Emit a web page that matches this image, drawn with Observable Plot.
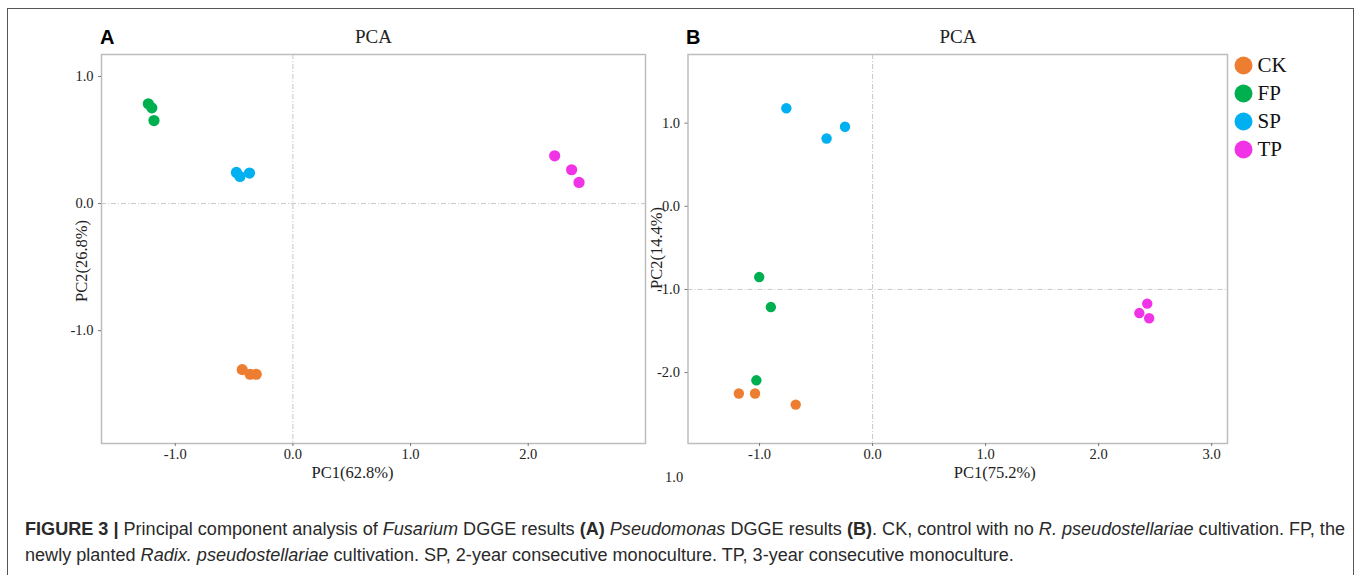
<!DOCTYPE html>
<html>
<head>
<meta charset="utf-8">
<script src="https://cdn.jsdelivr.net/npm/d3@7"></script>
<script src="https://cdn.jsdelivr.net/npm/@observablehq/plot@0.6"></script>
<style>
  html, body { margin: 0; padding: 0; background: #fff; }
  #root { position: relative; width: 1360px; height: 575px; overflow: hidden; background: #fff; }
  .abs { position: absolute; white-space: nowrap; }
  .serif { font-family: "Liberation Serif", "Times New Roman", serif; color: #222; }
  .sans { font-family: "Liberation Sans", Arial, Helvetica, sans-serif; color: #222; }
  #border { position: absolute; left: 7px; top: 8px; width: 1347px; height: 600px;
            border: 1.5px solid #555; box-sizing: border-box; }
</style>
</head>
<body>
<div id="root">
  <div id="border"></div>
</div>
<script>
// ---------- data ----------
const groups = ["CK", "FP", "SP", "TP"];
const groupColors = ["#ED7D31", "#00B050", "#00B0F0", "#F033E6"];

// Panel A (Fusarium)
const aGroup = ["FP", "FP", "FP", "SP", "SP", "SP", "TP", "TP", "TP", "CK", "CK", "CK"];
const aPC1 = [-1.229, -1.199, -1.181, -0.480, -0.450, -0.369, 2.225, 2.369, 2.432, -0.431, -0.364, -0.312];
const aPC2 = [0.785, 0.753, 0.653, 0.245, 0.213, 0.240, 0.376, 0.266, 0.166, -1.307, -1.343, -1.343];
const aXTicks = [-1, 0, 1, 2];
const aYTicks = [-1, 0, 1];
const aRefX = [0];
const aRefY = [0];

// Panel B (Pseudomonas)
const bGroup = ["SP", "SP", "SP", "FP", "FP", "FP", "CK", "CK", "CK", "TP", "TP", "TP"];
const bPC1 = [-0.763, -0.407, -0.244, -1.003, -0.900, -1.028, -1.183, -1.040, -0.680, 2.430, 2.360, 2.447];
const bPC2 = [1.180, 0.816, 0.957, -0.851, -1.212, -2.093, -2.252, -2.252, -2.385, -1.171, -1.284, -1.347];
const bXTicks = [-1, 0, 1, 2, 3];
const bYTicks = [-2, -1, 0, 1];
const bRefX = [0];
const bRefY = [-1];

// ---------- drawing ----------
const fmt = d => d.toFixed(1);
const root = document.getElementById("root");

function panel(o) {
  const idx = o.pc1.map((_, i) => i);
  const svg = Plot.plot({
    width: o.width, height: 500,
    marginLeft: o.mL, marginRight: o.mR, marginTop: 54, marginBottom: 57,
    style: { fontFamily: "'Liberation Serif', 'Times New Roman', serif", fontSize: "14.5px", color: "#222", background: "transparent" },
    x: { domain: o.xDomain },
    y: { domain: o.yDomain },
    color: { domain: groups, range: groupColors },
    marks: [
      Plot.ruleX(o.refX, { stroke: "#c8c8c8", strokeWidth: 1, strokeDasharray: "5,2,1,2" }),
      Plot.ruleY(o.refY, { stroke: "#c8c8c8", strokeWidth: 1, strokeDasharray: "5,2,1,2" }),
      Plot.frame({ stroke: "#bdbdbd", strokeWidth: 1.5 }),
      Plot.axisX({ ticks: o.xTicks, tickFormat: fmt, tickSize: 3, tickPadding: 2, label: null, stroke: "#777" }),
      Plot.axisY({ ticks: o.yTicks, tickFormat: fmt, tickSize: 3, tickPadding: 5, label: null, stroke: "#777" }),
      Plot.dot(idx, { x: i => o.pc1[i], y: i => o.pc2[i], fill: i => o.grp[i], r: o.r, stroke: null }),
      Plot.text([o.xLabel], { text: d => d, frameAnchor: "bottom", textAnchor: "middle", dx: o.xLabelDx, dy: 34, fontSize: 16.5 }),
      Plot.text([o.yLabel], { text: d => d, frameAnchor: "left", textAnchor: "middle", rotate: -90, dx: o.yLabelDx, dy: o.yLabelDy, fontSize: 16.5 })
    ]
  });
  svg.style.position = "absolute";
  svg.style.left = o.left + "px";
  svg.style.top = "0px";
  root.appendChild(svg);
}

panel({
  left: 0, width: 660, mL: 101, mR: 15,
  pc1: aPC1, pc2: aPC2, grp: aGroup,
  xDomain: [-1.627, 2.997], yDomain: [-1.888, 1.173],
  xTicks: aXTicks, yTicks: aYTicks, refX: aRefX, refY: aRefY,
  xLabel: "PC1(62.8%)", yLabel: "PC2(26.8%)",
  xLabelDx: -21, yLabelDx: -20, yLabelDy: 12, r: 5.6
});

panel({
  left: 600, width: 660, mL: 87.5, mR: 33,
  pc1: bPC1, pc2: bPC2, grp: bGroup,
  xDomain: [-1.633, 3.14], yDomain: [-2.853, 1.826],
  xTicks: bXTicks, yTicks: bYTicks, refX: bRefX, refY: bRefY,
  xLabel: "PC1(75.2%)", yLabel: "PC2(14.4%)",
  xLabelDx: 37, yLabelDx: -31, yLabelDy: -1, r: 5.2
});

// legend
const legend = Plot.plot({
  width: 120, height: 125, margin: 0,
  style: { fontFamily: "'Liberation Serif', 'Times New Roman', serif", background: "transparent", color: "#111" },
  x: { axis: null },
  y: { type: "point", domain: groups, range: [18.5, 105], padding: 0, axis: null },
  color: { domain: groups, range: groupColors },
  marks: [
    Plot.dot(groups, { y: d => d, fill: d => d, r: 9, frameAnchor: "left", dx: 15 }),
    Plot.text(groups, { y: d => d, text: d => d, frameAnchor: "left", dx: 29, textAnchor: "start", fontSize: 21 })
  ]
});
legend.style.position = "absolute";
legend.style.left = "1228px";
legend.style.top = "45px";
root.appendChild(legend);

// titles and caption
function addText(html, cls, left, top, size, extra) {
  const d = document.createElement("div");
  d.className = "abs " + cls;
  d.innerHTML = html;
  d.style.left = left + "px";
  d.style.top = top + "px";
  d.style.fontSize = size + "px";
  d.style.lineHeight = size + "px";
  if (extra) Object.assign(d.style, extra);
  root.appendChild(d);
  return d;
}
addText("A", "sans", 100, 26.5, 20, { fontWeight: "bold", color: "#000" });
addText("PCA", "serif", 373.5, 27, 19, { transform: "translateX(-50%)" });
addText("B", "sans", 686, 26.5, 20, { fontWeight: "bold", color: "#000" });
addText("PCA", "serif", 958, 27, 19, { transform: "translateX(-50%)" });
addText("1.0", "serif", 665, 469.6, 14.5);

const cap1 = addText("<b>FIGURE 3 |</b> Principal component analysis of <i>Fusarium</i> DGGE results <b>(A)</b> <i>Pseudomonas</i> DGGE results <b>(B)</b>. CK, control with no <i>R. pseudostellariae</i> cultivation. FP, the",
  "sans", 25, 521.2, 17.5, { transformOrigin: "0 0", color: "#2a2a2a" });
const cap2 = addText("newly planted <i>Radix. pseudostellariae</i> cultivation. SP, 2-year consecutive monoculture. TP, 3-year consecutive monoculture.",
  "sans", 25, 546.9, 17.5, { transformOrigin: "0 0", color: "#2a2a2a" });
const w = cap1.getBoundingClientRect().width;
const k = 1320 / w;
cap1.style.transform = `scaleX(${k})`;
cap2.style.transform = `scaleX(${k})`;
</script>
</body>
</html>
